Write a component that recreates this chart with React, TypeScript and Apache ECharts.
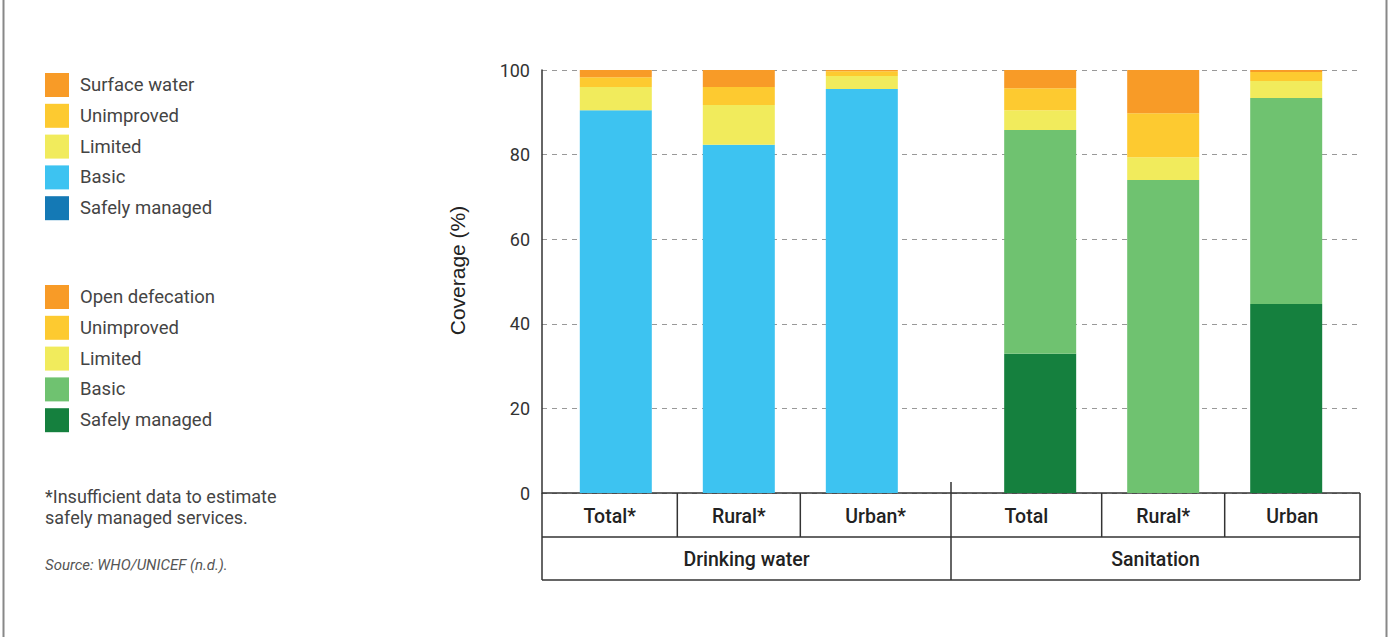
import React, { useEffect, useRef } from "react";
import * as echarts from "echarts";

// ---- Data ----
const groups = ["Drinking water", "Sanitation"];
const waterCats = ["Total*", "Rural*", "Urban*"];
const sanCats = ["Total", "Rural*", "Urban"];
const yTicks = [0, 20, 40, 60, 80, 100];

// Drinking water (%), order: Total*, Rural*, Urban*
const waterSafely = [0, 0, 0];
const waterBasic = [90.5, 82.3, 95.5];
const waterLimited = [5.5, 9.4, 3.1];
const waterUnimproved = [2.3, 4.3, 1.1];
const waterSurface = [1.7, 4.0, 0.3];

// Sanitation (%), order: Total, Rural*, Urban
const sanSafely = [32.9, 0, 44.7];
const sanBasic = [52.9, 74.0, 48.7];
const sanLimited = [4.7, 5.4, 4.0];
const sanUnimproved = [5.2, 10.4, 2.1];
const sanOpen = [4.3, 10.2, 0.5];

// ---- Styles ----
const C_ORANGE = "#F89B27";
const C_UNIMP = "#FDCA30";
const C_LIMITED = "#F1EB5C";
const C_BASIC_W = "#3DC3F1";
const C_SAFE_W = "#1479B5";
const C_BASIC_S = "#6FC270";
const C_SAFE_S = "#15803E";

// slot layout along the horizontal axis (time-typed so bars stack on y)
const UNIT = 1000;
const GROUP_STEP = 3.45;
const X_MIN = -0.6;
const X_MAX = 6.05;
const GRID_LEFT = 542;
const GRID_RIGHT = 29;
const GRID_W = 1389 - GRID_LEFT - GRID_RIGHT;
const BAR_W = 72;

export default function App() {
  const ref = useRef<HTMLDivElement>(null);

  useEffect(() => {
    document.body.style.margin = "0";
    const chart = echarts.init(ref.current!, undefined, { renderer: "svg" });

    const slot = (g: number, i: number) => g * GROUP_STEP + i;
    const zeros = [0, 0, 0];
    const mk = (w: number[], s: number[]) => [
      ...w.map((v, i) => [slot(0, i) * UNIT, v]),
      ...s.map((v, i) => [slot(1, i) * UNIT, v]),
    ];

    // ECharts widens a bar base axis by half a bar on each side; pre-shrink to compensate
    const pad = ((BAR_W / 2) / GRID_W) * (X_MAX - X_MIN);

    const barBase = { type: "bar", stack: "all", barWidth: BAR_W, emphasis: { disabled: true } };

    const nameMap: Record<string, string> = {
      "Safely managed (water)": "Safely managed",
      "Basic (water)": "Basic",
      "Safely managed (sanitation)": "Safely managed",
      "Basic (sanitation)": "Basic",
    };

    const legendBase = {
      orient: "vertical",
      left: 40,
      itemWidth: 24,
      itemHeight: 24,
      itemGap: 6.8,
      icon: "rect",
      selectedMode: false,
      formatter: (n: string) => nameMap[n] || n,
      textStyle: { fontSize: 18.5, color: "#444", fontFamily: "Roboto", padding: [0, 0, 0, 6] },
    };

    chart.setOption({
      animation: false,
      grid: { left: GRID_LEFT, right: GRID_RIGHT, top: 70, bottom: 144 },
      xAxis: {
        type: "time",
        min: (X_MIN + pad) * UNIT,
        max: (X_MAX - pad) * UNIT,
        show: false,
        splitLine: { show: false },
      },
      yAxis: {
        type: "value",
        min: 0,
        max: 100,
        interval: 20,
        axisLine: { show: true, onZero: false, lineStyle: { color: "#333", width: 1.5 } },
        axisTick: { show: false },
        axisLabel: {
          fontSize: 18,
          color: "#333",
          margin: 12,
          fontFamily: "Roboto",
          formatter: (v: number) => (yTicks.includes(v) ? String(v) : ""),
        },
        splitLine: { show: true, lineStyle: { color: "#999", type: [5, 5], width: 1.2 } },
      },
      legend: [
        {
          ...legendBase,
          top: 68,
          data: ["Surface water", "Unimproved", "Limited", "Basic (water)", "Safely managed (water)"],
        },
        {
          ...legendBase,
          top: 280,
          data: ["Open defecation", "Unimproved", "Limited", "Basic (sanitation)", "Safely managed (sanitation)"],
        },
      ],
      series: [
        { ...barBase, name: "Safely managed (water)", itemStyle: { color: C_SAFE_W }, data: mk(waterSafely, zeros) },
        { ...barBase, name: "Basic (water)", itemStyle: { color: C_BASIC_W }, data: mk(waterBasic, zeros) },
        { ...barBase, name: "Safely managed (sanitation)", itemStyle: { color: C_SAFE_S }, data: mk(zeros, sanSafely) },
        { ...barBase, name: "Basic (sanitation)", itemStyle: { color: C_BASIC_S }, data: mk(zeros, sanBasic) },
        { ...barBase, name: "Limited", itemStyle: { color: C_LIMITED }, data: mk(waterLimited, sanLimited) },
        { ...barBase, name: "Unimproved", itemStyle: { color: C_UNIMP }, data: mk(waterUnimproved, sanUnimproved) },
        { ...barBase, name: "Surface water", itemStyle: { color: C_ORANGE }, data: mk(waterSurface, zeros) },
        { ...barBase, name: "Open defecation", itemStyle: { color: C_ORANGE }, data: mk(zeros, sanOpen) },
      ],
    });

    // Table beneath the axis, placed through the chart's own scale
    const px = (s: number, y: number) => chart.convertToPixel({ gridIndex: 0 }, [s * UNIT, y]) as number[];
    const [, y0] = px(0, 0);
    const [, yTop] = px(0, 100);
    const y1 = y0 + 44;
    const y2 = y1 + 43;
    const gapMid = (slot(0, 2) + slot(1, 0)) / 2;
    const xl = px(X_MIN, 0)[0];
    const xr = px(X_MAX, 0)[0];
    const xm = px(gapMid, 0)[0];
    const lineStyle = { stroke: "#333", lineWidth: 1.5 };
    const ln = (x1: number, ya: number, x2: number, yb: number) => ({
      type: "line",
      shape: { x1, y1: ya, x2, y2: yb },
      style: lineStyle,
      silent: true,
    });
    const txt = (text: string, x: number, y: number, extra: any = {}) => ({
      type: "text",
      x,
      y,
      silent: true,
      style: {
        text,
        fill: "#222",
        fontSize: 19.5,
        fontWeight: 500,
        fontFamily: "Roboto",
        align: "center",
        verticalAlign: "middle",
        ...extra,
      },
    });

    const elements: any[] = [];
    // frame lines of the figure
    elements.push({ type: "line", shape: { x1: 3.5, y1: 0, x2: 3.5, y2: 637 }, style: { stroke: "#888", lineWidth: 2 }, silent: true });
    elements.push({ type: "line", shape: { x1: 1386.5, y1: 0, x2: 1386.5, y2: 637 }, style: { stroke: "#888", lineWidth: 2 }, silent: true });

    elements.push(ln(xl, y0, xr, y0));
    elements.push(ln(xl, y1, xr, y1));
    elements.push(ln(xl, y2, xr, y2));
    elements.push(ln(xl, y0, xl, y2));
    elements.push(ln(xr, y0, xr, y2));
    elements.push(ln(xm, y0 - 11, xm, y2));

    const cats = [waterCats, sanCats];
    cats.forEach((list, g) => {
      list.forEach((c, i) => {
        const left = i === 0 ? (g === 0 ? xl : xm) : px(slot(g, i) - 0.5, 0)[0];
        const right = i === list.length - 1 ? (g === 0 ? xm : xr) : px(slot(g, i) + 0.5, 0)[0];
        if (i > 0) elements.push(ln(left, y0, left, y1));
        elements.push(txt(c, (left + right) / 2, (y0 + y1) / 2 + 1));
      });
      const gl = g === 0 ? xl : xm;
      const gr = g === 0 ? xm : xr;
      elements.push(txt(groups[g], (gl + gr) / 2, (y1 + y2) / 2 + 1));
    });

    // Y axis title
    elements.push({
      type: "text",
      x: 457,
      y: (y0 + yTop) / 2 - 11,
      rotation: Math.PI / 2,
      silent: true,
      style: {
        text: "Coverage (%)",
        fill: "#222",
        fontSize: 21,
        fontFamily: "Liberation Sans",
        align: "center",
        verticalAlign: "middle",
      },
    });

    // Footnotes
    elements.push({
      type: "text",
      left: 45,
      top: 486,
      silent: true,
      style: {
        text: "*Insufficient data to estimate\nsafely managed services.",
        fill: "#444",
        fontSize: 18,
        lineHeight: 21,
        fontFamily: "Roboto",
      },
    });
    elements.push({
      type: "text",
      left: 45,
      top: 557,
      silent: true,
      style: {
        text: "Source: WHO/UNICEF (n.d.).",
        fill: "#555",
        fontSize: 15,
        fontStyle: "italic",
        fontFamily: "Roboto",
      },
    });

    chart.setOption({ graphic: elements });

    return () => chart.dispose();
  }, []);

  return (
    <div
      ref={ref}
      style={{ position: "fixed", left: 0, top: 0, width: 1389, height: 637, background: "#fff" }}
    />
  );
}
